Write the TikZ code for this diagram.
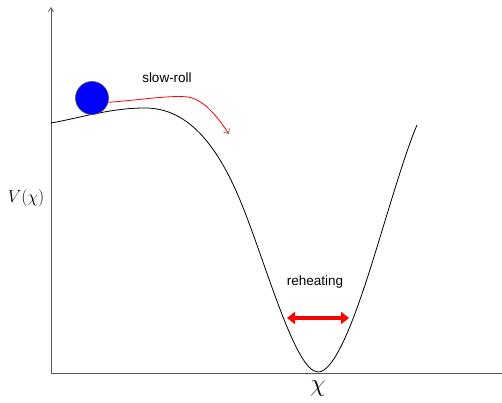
\documentclass[tikz,border=0pt]{standalone}
\usepackage{fontspec}
\setsansfont{Liberation Sans}
\usetikzlibrary{arrows.meta}
\begin{document}
\begin{tikzpicture}[x=1pt,y=-1pt,
  axis/.style={draw=gray!70!black, line width=0.7pt},
  pot/.style={draw=black, line width=0.8pt},
  lbl/.style={font=\sffamily\fontsize{13.5}{15}\selectfont, inner sep=0pt}]
\useasboundingbox (0,0) rectangle (502,403);
% axes
\coordinate (O) at (51,373);
\coordinate (ytop) at (51,7);
\coordinate (xend) at (502,373);
\draw[axis, -{Straight Barb[length=4pt,width=5pt]}] (O) -- (ytop);
\draw[axis] (O) -- (xend);
% potential
\draw[pot] (51,123) .. controls (80,118) and (110,108) .. (145,108)
  .. controls (185,108) and (215,140) .. (240,200)
  .. controls (265,260) and (295,372) .. (318,372)
  .. controls (333,372) and (350,330) .. (365,285)
  .. controls (380,240) and (403,157) .. (417,125);
% ball
\node[circle, fill=blue, draw=gray!60!black, line width=0.6pt, minimum size=33pt, inner sep=0pt] (ball) at (92,98) {};
% slow-roll path
\coordinate (sr) at (229,134);
\draw[red, line width=0.8pt, -{Straight Barb[length=4pt,width=7pt,color=gray!80!red]}]
  (ball.-15) .. controls (140,100) and (170,95) .. (188,97)
  .. controls (205,100) and (218,118) .. (sr);
\node[lbl] (slow) at (167,78) {slow-roll};
% reheating
\node[lbl] (reh) at (315,282) {reheating};
\coordinate (ra) at (287,318);
\coordinate (rb) at (349,318);
\draw[red, line width=3.5pt, {Triangle[length=8pt,width=12pt]}-{Triangle[length=8pt,width=12pt]}] (ra) -- (rb);
% labels
\node[inner sep=0pt] (chi) at (318,389) {\fontsize{42}{44}\selectfont$\chi$};
\node[inner sep=0pt] (V) at (26,198) {\fontsize{16}{18}\selectfont$V(\chi)$};
\end{tikzpicture}
\end{document}
